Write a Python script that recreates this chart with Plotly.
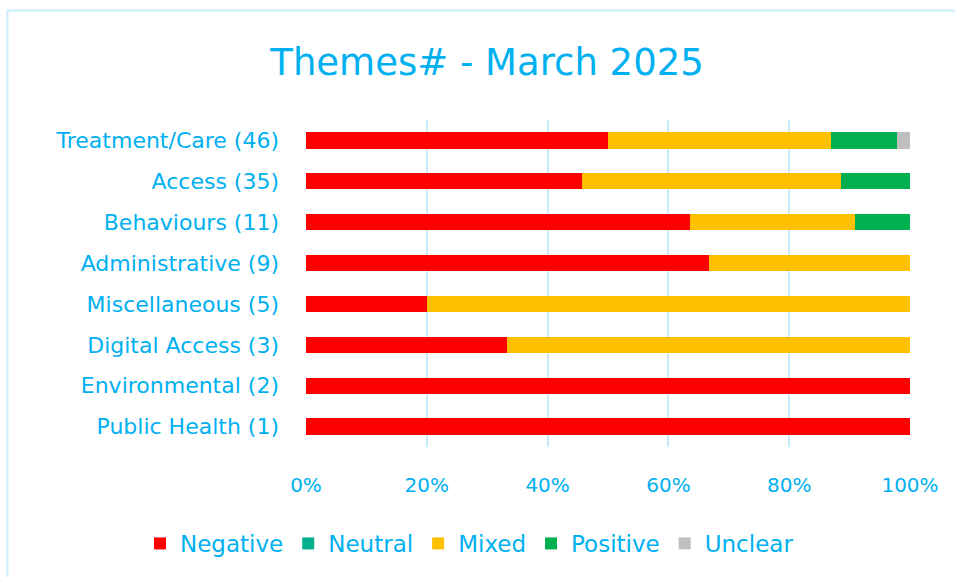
import plotly.graph_objects as go

categories = ["Treatment/Care (46)", "Access (35)", "Behaviours (11)", "Administrative (9)",
              "Miscellaneous (5)", "Digital Access (3)", "Environmental (2)", "Public Health (1)"]
negative = [23, 16, 7, 6, 1, 1, 2, 1]
neutral = [0, 0, 0, 0, 0, 0, 0, 0]
mixed = [17, 15, 3, 3, 4, 2, 0, 0]
positive = [5, 4, 1, 0, 0, 0, 0, 0]
unclear = [1, 0, 0, 0, 0, 0, 0, 0]

series = [("Negative", negative, "#FF0000"), ("Neutral", neutral, "#00B08C"),
          ("Mixed", mixed, "#FFC000"), ("Positive", positive, "#00B050"),
          ("Unclear", unclear, "#BFBFBF")]

TXT = "#00B0F0"
FONT = "DejaVu Sans"

fig = go.Figure()
for name, vals, col in series:
    fig.add_trace(go.Bar(y=categories, x=vals, name=name, orientation="h",
                         marker=dict(color=col, line=dict(width=0))))

bx0 = (7.5 - 306) / 604
bx1 = (958 - 306) / 604
by0 = (447 - 10.5) / 327
by1 = (447 - 620) / 327

fig.update_layout(
    width=955, height=577,
    barmode="stack", barnorm="percent", bargap=0.6,
    paper_bgcolor="white", plot_bgcolor="white",
    margin=dict(l=306, r=45, t=120, b=130),
    font=dict(family=FONT, color=TXT, size=21),
    title=dict(text="Themes# - March 2025", x=0.51, xanchor="center", y=0.893, yanchor="middle",
               font=dict(size=37, color=TXT, family=FONT)),
    legend=dict(orientation="h", x=(140 - 306) / 604, xanchor="left", y=-0.295, yanchor="middle",
                font=dict(size=23, color=TXT), traceorder="normal"),
    xaxis=dict(range=[0, 100], tickvals=[0, 20, 40, 60, 80, 100],
               ticktext=["0%", "20%", "40%", "60%", "80%", "100%"],
               showgrid=True, gridcolor="#C9EBFB", gridwidth=2, zeroline=False,
               showline=False, ticks="", ticklen=0, tickfont=dict(size=20),
               ticklabelstandoff=24, automargin=False),
    yaxis=dict(autorange="reversed", showgrid=False, showline=False, ticks="",
               tickfont=dict(size=22), ticklabelstandoff=26, automargin=False),
    shapes=[dict(type="path", xref="paper", yref="paper",
                 path=f"M {bx0},{by1} L {bx0},{by0} L {bx1},{by0}",
                 line=dict(color="#C9EBFB", width=2), layer="below")],
)

fig.write_html("out.html", config={"displayModeBar": False},
               post_script="document.body.style.margin='0';document.body.style.overflow='hidden';")
